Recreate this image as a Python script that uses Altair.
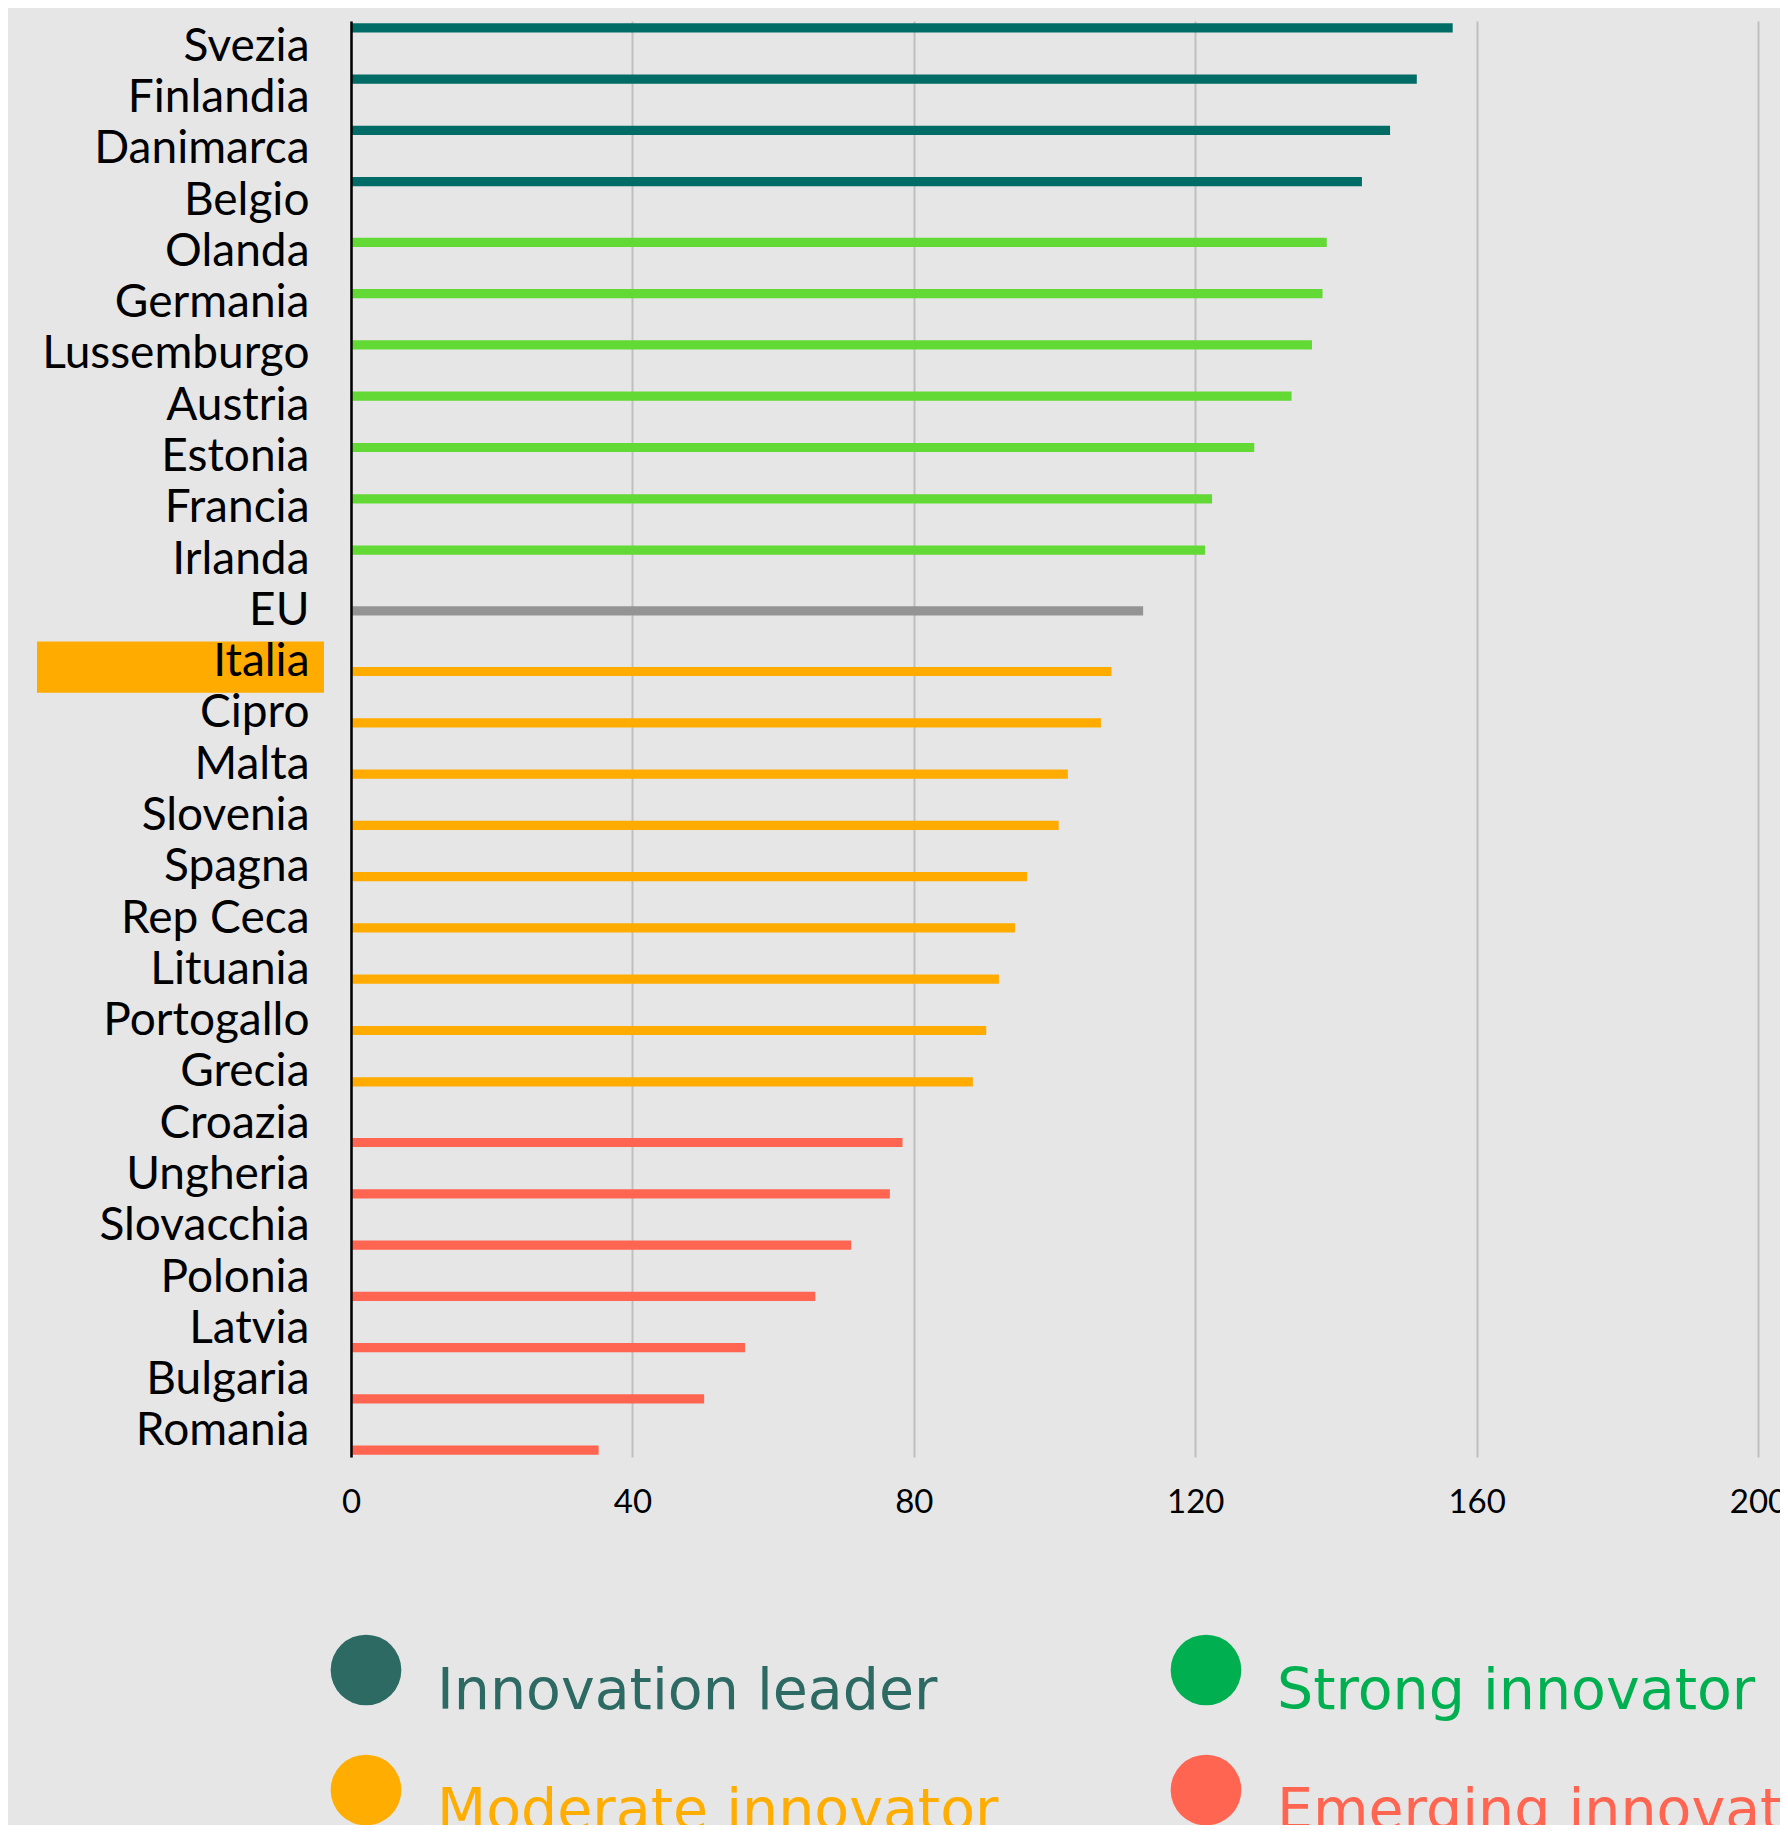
import altair as alt
import pandas as pd

countries = ["Svezia", "Finlandia", "Danimarca", "Belgio", "Olanda", "Germania",
             "Lussemburgo", "Austria", "Estonia", "Francia", "Irlanda", "EU",
             "Italia", "Cipro", "Malta", "Slovenia", "Spagna", "Rep Ceca",
             "Lituania", "Portogallo", "Grecia", "Croazia", "Ungheria",
             "Slovacchia", "Polonia", "Latvia", "Bulgaria", "Romania"]
values = [156.6, 151.5, 147.7, 143.7, 138.7, 138.1, 136.6, 133.7, 128.4, 122.4,
          121.4, 112.6, 108.1, 106.6, 101.9, 100.6, 96.1, 94.4, 92.1, 90.3, 88.4,
          78.4, 76.6, 71.1, 66.0, 56.0, 50.2, 35.2]
groups = (["Innovation leader"] * 4 + ["Strong innovator"] * 7 + ["EU"]
          + ["Moderate innovator"] * 9 + ["Emerging innovator"] * 7)

group_order = ["Innovation leader", "Strong innovator", "EU",
               "Moderate innovator", "Emerging innovator"]
bar_colors = ["#016b65", "#62d935", "#949494", "#ffab00", "#ff6550"]

legend_labels = ["Innovation leader", "Strong innovator",
                 "Moderate innovator", "Emerging innovator"]
legend_colors = ["#2d6a63", "#00b050", "#ffad00", "#ff6550"]

x_ticks = [0, 40, 80, 120, 160, 200]
highlight = "Italia"

df = pd.DataFrame({"country": countries, "value": values, "group": groups})
legend_df = pd.DataFrame({"label": legend_labels})

W, H = 1407, 1436
FONT = "Lato"

y_scale = alt.Scale(domain=countries, paddingInner=0, paddingOuter=0)

bars = alt.Chart(df).mark_bar().encode(
    x=alt.X("value:Q", scale=alt.Scale(domain=[0, 200], nice=False),
            axis=alt.Axis(values=x_ticks, title=None, grid=True, gridColor="#bfbfbf",
                          gridWidth=2, domain=False, ticks=False, labelFontSize=33,
                          labelFont=FONT, labelColor="#000000", labelPadding=29,
                          labelFlush=False)),
    y=alt.Y("country:N", sort=countries, scale=y_scale,
            axis=alt.Axis(title=None, ticks=False, domainColor="#000000", domainWidth=2.5,
                          labelFontSize=46, labelFont=FONT, labelColor="#000000",
                          labelPadding=42, labelLimit=0, zindex=1)),
    yOffset=alt.YOffset("group:N", scale=alt.Scale(domain=group_order, paddingInner=0.02,
                                                   paddingOuter=0.23)),
    color=alt.Color("group:N", scale=alt.Scale(domain=group_order, range=bar_colors),
                    legend=None),
)

hl = alt.Chart(df).transform_filter(
    alt.datum.country == highlight
).mark_rect(color="#ffab00").encode(
    y=alt.Y("country:N", sort=countries, scale=y_scale, axis=None),
    x=alt.value(-314),
    x2=alt.value(-27),
    yOffset=alt.value(5),
)

leg_base = alt.Chart(legend_df).transform_window(
    idx="row_number()"
).transform_calculate(
    col="(datum.idx - 1) % 2",
    row="floor((datum.idx - 1) / 2)",
).encode(
    x=alt.X("col:Q", scale=alt.Scale(domain=[0, 1], range=[15, 855]), axis=None),
    y=alt.Y("row:Q", scale=alt.Scale(domain=[0, 1], range=[1649, 1769]), axis=None),
    color=alt.Color("label:N", scale=alt.Scale(domain=legend_labels, range=legend_colors),
                    legend=None),
)

leg_dots = leg_base.mark_circle(size=5000, opacity=1)
leg_text = leg_base.mark_text(align="left", baseline="alphabetic", dx=71, dy=39,
                              fontSize=57, font="DejaVu Sans").encode(text="label:N")

chart = alt.layer(hl, bars, leg_dots, leg_text).resolve_scale(
    x="independent", y="independent", color="independent"
).properties(
    width=W, height=H,
    autosize=alt.AutoSizeParams(type="none"),
    padding={"left": 343, "top": 13, "right": 22, "bottom": 368},
    background="#e6e6e6",
).configure_view(stroke=None)

chart.save("out.html", embed_options={"renderer": "svg", "actions": False})
